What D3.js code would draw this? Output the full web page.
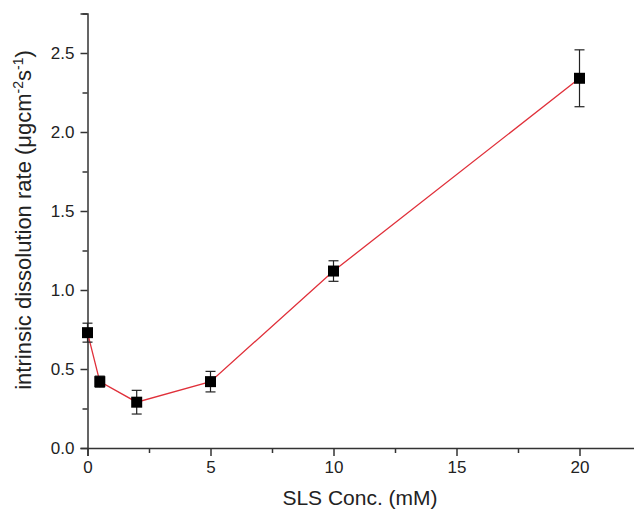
<!DOCTYPE html>
<html>
<head>
<meta charset="utf-8">
<script src="https://cdn.jsdelivr.net/npm/d3@7"></script>
<style>
  html, body { margin: 0; padding: 0; background: #fff; }
  svg { display: block; font-family: Arial, "Liberation Sans", sans-serif; }
</style>
</head>
<body>
<svg id="chart" width="634" height="510"></svg>
<script>
// SLS concentration (mM)
const conc = [0, 0.5, 2, 5, 10, 20];
// intrinsic dissolution rate (µg cm^-2 s^-1)
const rate = [0.73, 0.42, 0.29, 0.42, 1.12, 2.34];
// standard deviation for each point
const err = [0.06, 0.035, 0.075, 0.065, 0.065, 0.18];

const xMajor = [0, 5, 10, 15, 20];
const xMinor = [2.5, 7.5, 12.5, 17.5, 22.5];
const yMajor = [0, 0.5, 1.0, 1.5, 2.0, 2.5];
const yMinor = [0.25, 0.75, 1.25, 1.75, 2.25, 2.75];

const svg = d3.select("#chart");

const x = d3.scaleLinear().domain([0, 22.5]).range([87.5, 641]);
const y = d3.scaleLinear().domain([0, 2.75]).range([448, 13.5]);

const axisColor = "#333";

// x axis: major ticks labelled, minor ticks unlabelled
const gx = svg.append("g").attr("transform", `translate(0,${y(0)})`);
gx.call(d3.axisBottom(x).tickValues(xMajor).tickSize(8).tickPadding(5)
  .tickFormat(d3.format("d")));
gx.append("g").call(d3.axisBottom(x).tickValues(xMinor).tickSize(5).tickFormat(""));
gx.selectAll(".domain").attr("stroke", axisColor).attr("stroke-width", 1.5);
gx.selectAll(".tick line").attr("stroke", axisColor).attr("stroke-width", 1.5);
gx.selectAll(".tick text").attr("fill", "#222").style("font-size", "17px");
gx.selectAll("g g .domain").remove();

// y axis
const gy = svg.append("g").attr("transform", `translate(${x(0)},0)`);
gy.call(d3.axisLeft(y).tickValues(yMajor).tickSize(7).tickPadding(6)
  .tickFormat(d3.format(".1f")));
gy.append("g").call(d3.axisLeft(y).tickValues(yMinor).tickSize(5).tickFormat(""));
gy.selectAll(".domain").attr("stroke", axisColor).attr("stroke-width", 1.5);
gy.selectAll(".tick line").attr("stroke", axisColor).attr("stroke-width", 1.5);
gy.selectAll(".tick text").attr("fill", "#222").style("font-size", "17px");
gy.selectAll("g g .domain").remove();

const pts = conc.map((c, i) => ({ c, r: rate[i], e: err[i] }));

// connecting line
svg.append("path")
  .datum(pts)
  .attr("fill", "none")
  .attr("stroke", "#e0303a")
  .attr("stroke-width", 1.3)
  .attr("d", d3.line().x(d => x(d.c)).y(d => y(d.r)));

// error bars
const capW = 5;
const eb = svg.append("g").attr("stroke", "#222").attr("stroke-width", 1.2);
pts.forEach(d => {
  const cx = x(d.c), top = y(d.r + d.e), bot = y(d.r - d.e);
  eb.append("line").attr("x1", cx).attr("x2", cx).attr("y1", top).attr("y2", bot);
  eb.append("line").attr("x1", cx - capW).attr("x2", cx + capW).attr("y1", top).attr("y2", top);
  eb.append("line").attr("x1", cx - capW).attr("x2", cx + capW).attr("y1", bot).attr("y2", bot);
});

// square markers
const ms = 11;
svg.append("g").selectAll("rect").data(pts).join("rect")
  .attr("x", d => x(d.c) - ms / 2)
  .attr("y", d => y(d.r) - ms / 2)
  .attr("width", ms).attr("height", ms)
  .attr("fill", "#000");

// axis titles
svg.append("text")
  .attr("x", 360).attr("y", 505)
  .attr("text-anchor", "middle")
  .attr("fill", "#222")
  .style("font-size", "21px")
  .text("SLS Conc. (mM)");

const yt = svg.append("text")
  .attr("transform", "translate(31,220) rotate(-90)")
  .attr("text-anchor", "middle")
  .attr("fill", "#222")
  .style("font-size", "22px");
yt.append("tspan").text("intrinsic dissolution rate (\u03BCgcm");
yt.append("tspan").attr("dy", -8).style("font-size", "14px").text("-2");
yt.append("tspan").attr("dy", 8).text("s");
yt.append("tspan").attr("dy", -8).style("font-size", "14px").text("-1");
yt.append("tspan").attr("dy", 8).text(")");
</script>
</body>
</html>
